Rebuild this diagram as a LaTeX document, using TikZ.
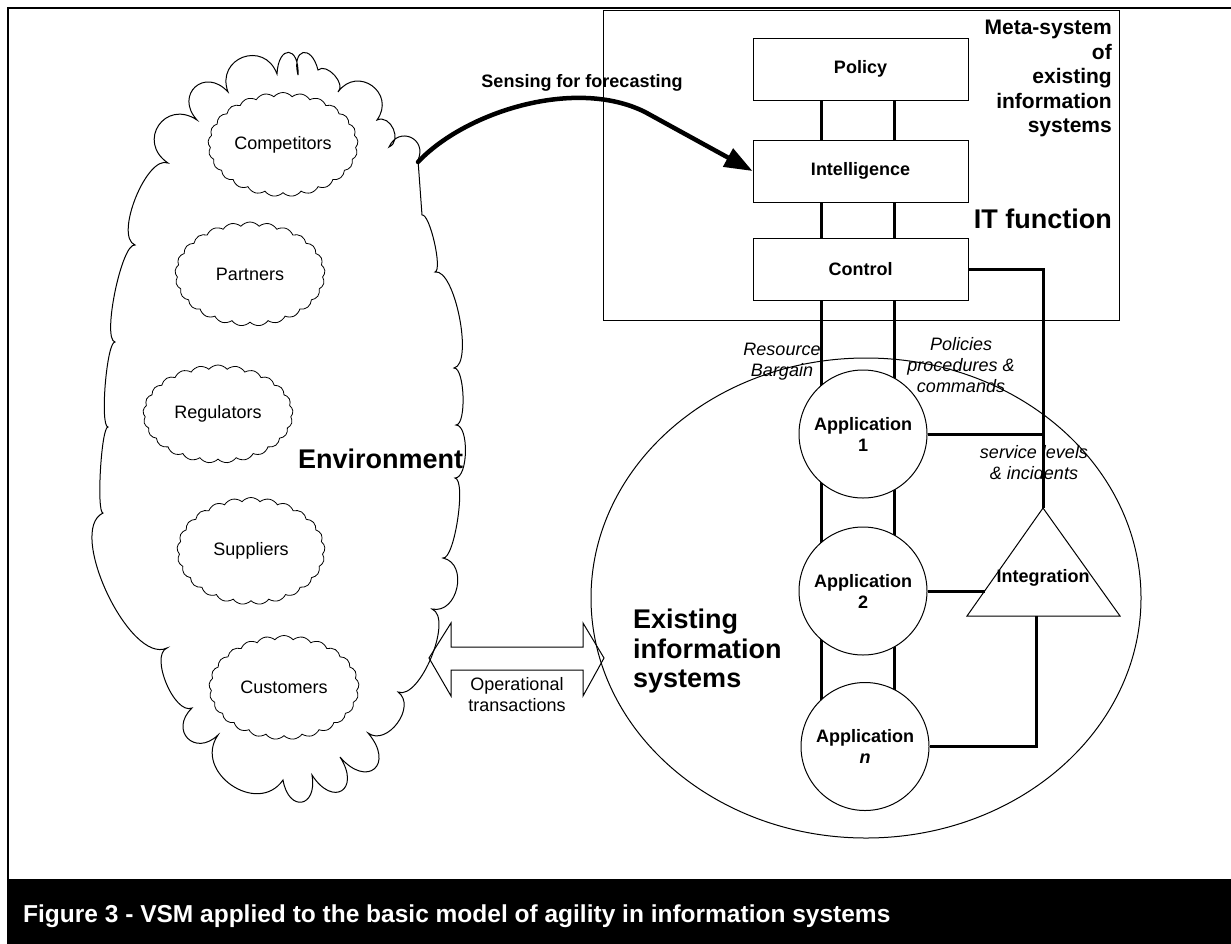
\documentclass[tikz,border=0pt]{standalone}
\usepackage{fontspec}
\setmainfont{Liberation Sans}
\usetikzlibrary{shapes.symbols,shapes.geometric,arrows.meta,calc}
\begin{document}
\begin{tikzpicture}[x=1pt,y=1pt,
  lbl/.style={font=\fontsize{18}{21}\selectfont, align=center, inner sep=0pt},
  blbl/.style={font=\bfseries\fontsize{18}{21}\selectfont, align=center},
  ilbl/.style={font=\itshape\fontsize{18}{21}\selectfont, align=center, inner sep=0pt},
  big/.style={font=\bfseries\fontsize{27}{29.5}\selectfont, inner sep=0pt},
  thinline/.style={line width=1pt},
  conn/.style={line width=3pt},
  stagebox/.style={draw, thinline, fill=white, minimum width=215pt, minimum height=62pt, blbl},
  appnode/.style={draw, thinline, circle, fill=white, minimum size=128pt, inner sep=0pt, blbl},
  smallcloud/.style={cloud, draw, line width=0.8pt, cloud puffs=25, cloud puff arc=100, cloud ignores aspect, minimum width=150pt, minimum height=104pt, font=\fontsize{18}{21}\selectfont, inner sep=0pt},
  bump/.style={bend left=90, looseness=#1},
]
\useasboundingbox (0,0) rectangle (1231,-943);
\clip (0,0) rectangle (1231,-943);

% outer frame and caption band
\draw[line width=2.6pt] (8,-960) -- (8,-8) -- (1260,-8);
\fill[black] (6.7,-879) rectangle (1240,-960);
\node[anchor=base west, text=white, font=\bfseries\fontsize{24.5}{28}\selectfont, inner sep=0pt] (caption) at (23,-922.5) {Figure 3 - VSM applied to the basic model of agility in information systems};

% environment cloud
\coordinate (envtop) at (418,-162);
\coordinate (envR) at (429,-658);
\draw[thinline] (168,-163)
 to[bump=1.9] (197,-120)
 to[bump=2.1] (228,-92)
 to[bump=1.8] (277,-74)
 to[bump=3.6] (298,-75)
 to[bump=3.4] (318,-70)
 to[bump=1.0] (338,-92)
 to[bump=1.77] (377,-120)
 to[bump=1.3] (389,-147)
 to[bump=1.9] (418,-160)
 -- (422,-215)
 to[bump=0.35] (435,-272)
 to[bump=0.53] (454,-368)
 to[bump=0.48] (456,-425)
 to[bump=0.64] (455,-478)
 to[bump=0.37] (443,-558)
 to[bump=1.3] (432,-609)
 to[bump=0.67] (398,-692)
 to[bump=1.2] (368,-733)
 to[bump=2.9] (340,-757)
 to[bump=3.0] (312,-775)
 to[bump=2.9] (283,-780)
 to[bump=1.45] (218,-735)
 to[bump=2.2] (192,-708)
 to[bump=0.75] (167,-648)
 to[bump=0.7] (103,-513)
 to[bump=0.2] (108,-427)
 to[bump=0.25] (115,-342)
 to[bump=0.35] (135,-245)
 to[bump=0.66] (168,-163) -- cycle;

\node[smallcloud] (comp) at (283,-144.5) {Competitors};
\node[smallcloud] (part) at (250,-274) {Partners};
\node[smallcloud, minimum height=98pt] (regu) at (218,-414) {Regulators};
\node[smallcloud, minimum width=148pt, minimum height=107pt] (supp) at (251,-551) {Suppliers};
\node[smallcloud] (cust) at (284,-687.5) {Customers};
\node[big, anchor=base west] (envlbl) at (298,-468) {Environment};

% existing information systems ellipse
\node[draw, thinline, ellipse, minimum width=550pt, minimum height=480pt, inner sep=0pt] (eis) at (866,-598) {};
\coordinate (eisL) at (604,-658);
\node[big, anchor=north west, align=left] (eislbl) at (633,-609) {Existing\\information\\systems};

% meta-system
\node[draw, thinline, minimum width=515.5pt, minimum height=310pt, inner sep=0pt] (meta) at (861.25,-165) {};
\node[anchor=north east, align=right, font=\bfseries\fontsize{21}{24.5}\selectfont, inner sep=0pt] (metalbl) at (1112,-20) {Meta-system\\of\\existing\\information\\systems};
\node[big, anchor=base east] (itlbl) at (1112,-228) {IT function};

% vertical channels
\coordinate (lx1) at (821,0);
\coordinate (lx2) at (894,0);
\node[stagebox] (policy) at (860.5,-69) {Policy};
\node[stagebox] (intel) at (860.5,-171) {Intelligence};
\node[stagebox] (ctrl) at (860.5,-269.5) {Control};
\coordinate (tapex) at (1043,-508);
\coordinate (tbl) at (967,-616);
\coordinate (tbr) at (1120,-616);
\coordinate (tleft) at (984.6,-591);
\coordinate (tbase) at (1036,-616);
\coordinate (a1c) at (863,-434);
\coordinate (a2c) at (863,-591);
\coordinate (anc) at (865,-746.5);

\draw[conn] (policy.south -| lx1) -- (intel.north -| lx1);
\draw[conn] (policy.south -| lx2) -- (intel.north -| lx2);
\draw[conn] (intel.south -| lx1) -- (ctrl.north -| lx1);
\draw[conn] (intel.south -| lx2) -- (ctrl.north -| lx2);
\draw[conn] (ctrl.south -| lx1) -- (anc -| lx1);
\draw[conn] (ctrl.south -| lx2) -- (anc -| lx2);

\node[appnode] (app1) at (a1c) {Application\\1};
\node[appnode] (app2) at (a2c) {Application\\2};
\node[appnode] (appn) at (anc) {Application\\\textit{n}};

% integration
\draw[thinline, fill=white] (tapex) -- (tbr) -- (tbl) -- cycle;
\node[blbl, inner sep=0pt] (integ) at (1043,-578) {Integration};
\draw[conn] (ctrl.east) -| (tapex);
\draw[conn] (app1.east) -- (app1.east -| tapex);
\draw[conn] (app2.east) -- (tleft);
\draw[conn] (appn.east) -| (tbase);

% labels on channels
\node[ilbl, anchor=north] (resb) at (782,-343) {Resource\\Bargain};
\node[ilbl, anchor=north] (polp) at (961,-337) {Policies\\procedures \&\\commands};
\node[ilbl, anchor=north] (serv) at (1034,-445) {service levels\\\& incidents};

% sensing arrow
\draw[line width=4.5pt, line cap=round, -{Triangle[length=28pt,width=20pt]}] (envtop) .. controls (465,-112) and (575,-77) .. (645,-112) -- (intel.west);
\node[blbl, anchor=base, inner sep=0pt] (senslbl) at (582,-87.5) {Sensing for forecasting};

% operational transactions double arrow
\draw[thinline, line join=miter] (envR) -- (451,-623) -- (451,-647) -- (583,-647) -- (583,-623) -- (eisL) -- (583,-696) -- (583,-670) -- (451,-670) -- (451,-696) -- cycle;
\node[lbl, anchor=north] (optr) at (517,-677) {Operational\\transactions};
\end{tikzpicture}
\end{document}
